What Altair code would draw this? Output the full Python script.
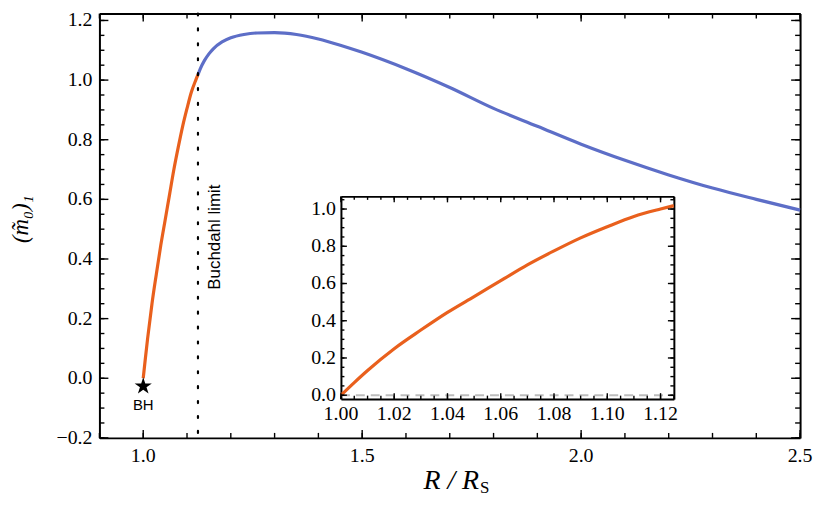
import altair as alt
import pandas as pd

# ---------------- data ----------------
orange_x = [1.000, 1.005, 1.010, 1.020, 1.030, 1.040, 1.050, 1.060, 1.070,
            1.080, 1.090, 1.100, 1.110, 1.120, 1.125]
orange_y = [0.000, 0.068, 0.133, 0.250, 0.350, 0.445, 0.530, 0.615, 0.700,
            0.775, 0.845, 0.905, 0.960, 1.000, 1.018]

blue_x = [1.125, 1.130, 1.140, 1.150, 1.160, 1.180, 1.200, 1.230, 1.260,
          1.300, 1.350, 1.400, 1.450, 1.500, 1.600, 1.700, 1.800, 1.900,
          2.000, 2.100, 2.200, 2.300, 2.400, 2.500]
blue_y = [1.018, 1.037, 1.066, 1.088, 1.105, 1.128, 1.142, 1.153, 1.158,
          1.159, 1.153, 1.138, 1.117, 1.093, 1.038, 0.975, 0.905, 0.845,
          0.785, 0.731, 0.682, 0.638, 0.600, 0.564]

buchdahl_x = [1.125]
bh_x = [1.0]
bh_y = [-0.027]
bh_label_y = [-0.09]
bh_label = ["BH"]
buchdahl_label = ["Buchdahl limit"]
y_title = ["(m\u0303\u2080)\u2081"]
x_title_main = ["R\u2005/\u2005R"]
x_title_sub = ["S"]

zero_line_x = [1.0]
zero_line_x2 = [1.125]
zero_line_y = [0.0]

main_x_major = [1.0, 1.5, 2.0, 2.5]
main_x_minor = [round(0.9 + 0.1 * i, 3) for i in range(17)]
main_y_major = [-0.2, 0.0, 0.2, 0.4, 0.6, 0.8, 1.0, 1.2]
main_y_minor = [round(-0.2 + 0.05 * i, 3) for i in range(29)]
inset_x_major = [1.00, 1.02, 1.04, 1.06, 1.08, 1.10, 1.12]
inset_x_minor = [round(1.0 + 0.005 * i, 4) for i in range(26)]
inset_y_major = [0.0, 0.2, 0.4, 0.6, 0.8, 1.0]
inset_y_minor = [round(0.05 * i, 3) for i in range(22)]

# ---------------- layout ----------------
W, H = 705, 427
IX0, IX1 = 243, 578      # inset left / right (plot px)
IYB, IYT = 388, 184      # inset bottom / top (plot px)

ORANGE = "#E9601D"
BLUE = "#5D6EC7"
SERIF = "Liberation Serif"
SANS = "Liberation Sans"

orange_df = pd.DataFrame({"x": orange_x, "y": orange_y})
blue_df = pd.DataFrame({"x": blue_x, "y": blue_y})

mxs = alt.Scale(domain=[0.9, 2.5], nice=False, zero=False)
mys = alt.Scale(domain=[-0.2, 1.2233], nice=False, zero=False)
ixs = alt.Scale(domain=[1.0, 1.125], range=[IX0, IX1], nice=False, zero=False)
iys = alt.Scale(domain=[-0.021, 1.068], range=[IYB, IYT], nice=False, zero=False)


def frame_axis(orient, offset):
    return alt.Axis(orient=orient, offset=offset, ticks=False, labels=False,
                    domain=True, domainColor="black", domainWidth=2,
                    grid=False, title=None)


def xticks(values, scale, y0, y1):
    return alt.Chart(pd.DataFrame({"v": values})).mark_rule(
        color="black", strokeWidth=1.4).encode(
        x=alt.X("v:Q", scale=scale, axis=None),
        y=alt.value(y0), y2=alt.value(y1))


def yticks(values, scale, x0, x1):
    return alt.Chart(pd.DataFrame({"v": values})).mark_rule(
        color="black", strokeWidth=1.4).encode(
        y=alt.Y("v:Q", scale=scale, axis=None),
        x=alt.value(x0), x2=alt.value(x1))


def xlabels(values, scale, y0, fmt):
    return alt.Chart(pd.DataFrame({"v": values})).mark_text(
        font=SERIF, fontSize=20, color="black", align="center", baseline="top").encode(
        x=alt.X("v:Q", scale=scale, axis=None), y=alt.value(y0),
        text=alt.Text("v:Q", format=fmt))


def ylabels(values, scale, x0, fmt):
    return alt.Chart(pd.DataFrame({"v": values})).mark_text(
        font=SERIF, fontSize=20, color="black", align="right", baseline="middle").encode(
        y=alt.Y("v:Q", scale=scale, axis=None), x=alt.value(x0),
        text=alt.Text("v:Q", format=fmt))


layers = []

# ---- main plot ----
layers.append(alt.Chart(orange_df).mark_line(color=ORANGE, strokeWidth=3.2, interpolate="monotone").encode(
    x=alt.X("x:Q", scale=mxs, axis=frame_axis("bottom", 0)),
    y=alt.Y("y:Q", scale=mys, axis=frame_axis("left", 0))))
layers.append(alt.Chart(blue_df).mark_line(color=BLUE, strokeWidth=3.2, interpolate="monotone").encode(
    x=alt.X("x:Q", scale=mxs, axis=frame_axis("bottom", -H)),
    y=alt.Y("y:Q", scale=mys, axis=frame_axis("left", -W))))

# main ticks (inward, all four sides) and labels
layers += [
    xticks(main_x_minor, mxs, H, H - 5), xticks(main_x_major, mxs, H, H - 8),
    xticks(main_x_minor, mxs, 0, 5), xticks(main_x_major, mxs, 0, 8),
    yticks(main_y_minor, mys, 0, 5), yticks(main_y_major, mys, 0, 9),
    yticks(main_y_minor, mys, W, W - 5), yticks(main_y_major, mys, W, W - 9),
    xlabels(main_x_major, mxs, H + 8, ".1f"),
    ylabels(main_y_major, mys, -7, ".1f"),
]

# Buchdahl limit dotted line
layers.append(alt.Chart(pd.DataFrame({"x": buchdahl_x})).mark_rule(
    color="black", strokeWidth=2.2, strokeDash=[2, 13], strokeCap="round").encode(
    x=alt.X("x:Q", scale=mxs, axis=None)))

# star (BH)
star = ("M0,-1L0.2245,-0.309L0.951,-0.309L0.363,0.118L0.588,0.809L0,0.382"
        "L-0.588,0.809L-0.363,0.118L-0.951,-0.309L-0.2245,-0.309Z")
layers.append(alt.Chart(pd.DataFrame({"x": bh_x, "y": bh_y})).mark_point(
    shape=star, size=330, filled=True, color="black", opacity=1).encode(
    x=alt.X("x:Q", scale=mxs, axis=None), y=alt.Y("y:Q", scale=mys, axis=None)))
layers.append(alt.Chart(pd.DataFrame({"x": bh_x, "y": bh_label_y, "t": bh_label})).mark_text(
    font=SANS, fontSize=15, color="black", baseline="middle", align="center").encode(
    x=alt.X("x:Q", scale=mxs, axis=None), y=alt.Y("y:Q", scale=mys, axis=None), text="t:N"))

# ---- inset ----
zero_df = pd.DataFrame({"x": zero_line_x, "x2": zero_line_x2, "y": zero_line_y})
layers.append(alt.Chart(zero_df).mark_rule(color="#BDBDBD", strokeWidth=2, strokeDash=[9, 6]).encode(
    x=alt.X("x:Q", scale=ixs, axis=frame_axis("bottom", IYT - H)),
    x2="x2:Q",
    y=alt.Y("y:Q", scale=iys, axis=frame_axis("left", -IX1))))
layers.append(alt.Chart(orange_df).mark_line(color=ORANGE, strokeWidth=3.2, interpolate="monotone").encode(
    x=alt.X("x:Q", scale=ixs, axis=frame_axis("bottom", IYB - H)),
    y=alt.Y("y:Q", scale=iys, axis=frame_axis("left", -IX0))))

layers += [
    xticks(inset_x_minor, ixs, IYB, IYB - 3.5), xticks(inset_x_major, ixs, IYB, IYB - 6),
    xticks(inset_x_minor, ixs, IYT, IYT + 3.5), xticks(inset_x_major, ixs, IYT, IYT + 6),
    yticks(inset_y_minor, iys, IX0, IX0 + 3.5), yticks(inset_y_major, iys, IX0, IX0 + 6),
    yticks(inset_y_minor, iys, IX1, IX1 - 3.5), yticks(inset_y_major, iys, IX1, IX1 - 6),
    xlabels(inset_x_major, ixs, IYB + 5, ".2f"),
    ylabels(inset_y_major, iys, IX0 - 5, ".1f"),
]

# ---- annotations / titles ----
layers.append(alt.Chart(pd.DataFrame({"t": buchdahl_label})).mark_text(
    font=SANS, fontSize=17, color="black", angle=270,
    align="center", baseline="middle").encode(
    x=alt.value(116), y=alt.value(225), text="t:N"))
layers.append(alt.Chart(pd.DataFrame({"t": y_title})).mark_text(
    font=SERIF, fontSize=23, fontStyle="italic", color="black", angle=270,
    align="center", baseline="middle").encode(
    x=alt.value(-79), y=alt.value(207), text="t:N"))
layers.append(alt.Chart(pd.DataFrame({"t": x_title_main})).mark_text(
    font=SERIF, fontSize=28, fontStyle="italic", color="black",
    align="right", baseline="alphabetic").encode(
    x=alt.value(382), y=alt.value(478), text="t:N"))
layers.append(alt.Chart(pd.DataFrame({"t": x_title_sub})).mark_text(
    font=SERIF, fontSize=17, color="black",
    align="left", baseline="alphabetic").encode(
    x=alt.value(383), y=alt.value(482), text="t:N"))

chart = alt.layer(*layers).resolve_scale(
    x="independent", y="independent"
).properties(
    width=W, height=H,
    padding={"left": 92, "top": 4, "right": 14, "bottom": 68},
    autosize=alt.AutoSizeParams(type="none"),
).configure_view(stroke=None)

chart.save("out.html", embed_options={"renderer": "svg", "actions": False})
